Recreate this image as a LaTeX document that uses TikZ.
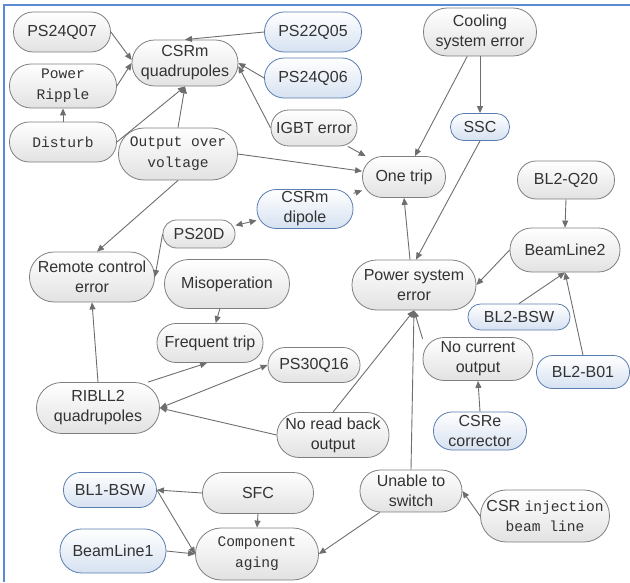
\documentclass[tikz,border=0pt]{standalone}
\usepackage{fontspec}
\setmainfont{Liberation Sans}
\newfontfamily\monof{Liberation Mono}
\usetikzlibrary{arrows.meta}
\definecolor{gborder}{HTML}{7F7F7F}
\definecolor{gfill}{HTML}{E2E2E2}
\definecolor{bborder}{HTML}{5A7DB0}
\definecolor{bfill}{HTML}{D6E1F1}
\definecolor{txt}{HTML}{333333}
\definecolor{arrc}{HTML}{6E6E6E}
\definecolor{framec}{HTML}{5B8BD4}
\tikzset{
  box/.style={rectangle, draw=gborder, line width=0.8pt, top color=white, bottom color=gfill,
    text=txt, align=center, inner sep=0pt, font=\fontsize{16}{20}\selectfont},
  bbox/.style={box, draw=bborder, bottom color=bfill},
  mono/.style={font=\monof\fontsize{14.6}{21}\selectfont},
  arr/.style={draw=arrc, line width=0.9pt, -{Triangle[length=7pt,width=6pt]}},
  darr/.style={draw=arrc, line width=0.9pt, {Triangle[length=7pt,width=6pt]}-{Triangle[length=7pt,width=6pt]}},
  framel/.style={draw=framec, line width=1.5pt}
}
\begin{document}
\begin{tikzpicture}[x=1pt,y=-1pt]
\useasboundingbox (0,0) rectangle (630,582);
\draw[framel] (630,5) -- (4,5) -- (4,582);

% nodes
\node[box, minimum width=97pt, minimum height=40pt, rounded corners=19.6pt] (ps24q07) at (62,32) {PS24Q07};
\node[box, mono, minimum width=107pt, minimum height=44pt, rounded corners=21.6pt] (pripple) at (63,86) {Power\\Ripple};
\node[box, mono, minimum width=107pt, minimum height=40pt, rounded corners=19.6pt] (disturb) at (63,142) {Disturb};
\node[box, minimum width=106pt, minimum height=46pt, rounded corners=22.6pt] (csrmq) at (185,63) {CSRm\\quadrupoles};
\node[bbox, minimum width=97pt, minimum height=40pt, rounded corners=19.6pt] (ps22q05) at (313,32) {PS22Q05};
\node[bbox, minimum width=97pt, minimum height=40pt, rounded corners=19.6pt] (ps24q06) at (313,78) {PS24Q06};
\node[box, minimum width=86pt, minimum height=36pt, rounded corners=17.6pt] (igbt) at (314,128) {IGBT error};
\node[box, mono, minimum width=119pt, minimum height=52pt, rounded corners=25.6pt] (oov) at (178,154) {Output over\\voltage};
\node[box, minimum width=113pt, minimum height=48pt, rounded corners=23.6pt] (cool) at (480,32) {Cooling\\system error};
\node[bbox, minimum width=59pt, minimum height=27pt, rounded corners=13.1pt] (ssc) at (480,127) {SSC};
\node[box, minimum width=83pt, minimum height=41pt, rounded corners=20.1pt] (onetrip) at (404,177) {One trip};
\node[bbox, minimum width=96pt, minimum height=39pt, rounded corners=19.1pt] (csrmd) at (305,209) {CSRm\\dipole};
\node[box, minimum width=72pt, minimum height=28pt, rounded corners=13.6pt] (ps20d) at (199,234) {PS20D};
\node[box, minimum width=125pt, minimum height=50pt, rounded corners=24.6pt] (rce) at (92,277) {Remote control\\error};
\node[box, minimum width=125pt, minimum height=49pt, rounded corners=24.1pt] (misop) at (227,284) {Misoperation};
\node[box, minimum width=106pt, minimum height=39pt, rounded corners=19.1pt] (ftrip) at (210,343) {Frequent trip};
\node[box, minimum width=92pt, minimum height=35pt, rounded corners=17.1pt] (ps30q16) at (314,365) {PS30Q16};
\node[box, minimum width=123pt, minimum height=51pt, rounded corners=25.1pt] (ribll2) at (98,408) {RIBLL2\\quadrupoles};
\node[box, minimum width=112pt, minimum height=45pt, rounded corners=22.1pt] (nrb) at (333,435) {No read back\\output};
\node[box, minimum width=97pt, minimum height=38pt, rounded corners=18.6pt] (bl2q20) at (566,180) {BL2-Q20};
\node[box, minimum width=110pt, minimum height=44pt, rounded corners=21.6pt] (bl2) at (565,250) {BeamLine2};
\node[box, minimum width=124pt, minimum height=50pt, rounded corners=24.6pt] (pse) at (414,285) {Power system\\error};
\node[bbox, minimum width=102pt, minimum height=26pt, rounded corners=12.6pt] (bl2bsw) at (519,317) {BL2-BSW};
\node[box, minimum width=110pt, minimum height=43pt, rounded corners=21.1pt] (nco) at (478,359) {No current\\output};
\node[bbox, minimum width=93pt, minimum height=33pt, rounded corners=16.1pt] (bl2b01) at (583,372) {BL2-B01};
\node[bbox, minimum width=93pt, minimum height=38pt, rounded corners=18.6pt] (csre) at (480,431) {CSRe\\corrector};
\node[box, minimum width=102pt, minimum height=42pt, rounded corners=20.6pt] (unable) at (411,491) {Unable to\\switch};
\node[box, minimum width=129pt, minimum height=52pt, rounded corners=25.6pt] (csrinj) at (545,516) {CSR {\monof\fontsize{14.6}{21}\selectfont injection}\\{\monof\fontsize{14.6}{21}\selectfont beam line}};
\node[bbox, minimum width=93pt, minimum height=35pt, rounded corners=17.1pt] (bl1bsw) at (110,490) {BL1-BSW};
\node[box, minimum width=111pt, minimum height=41pt, rounded corners=20.1pt] (sfc) at (258,493) {SFC};
\node[bbox, minimum width=106pt, minimum height=44pt, rounded corners=21.6pt] (bl1) at (113,551) {BeamLine1};
\node[box, mono, minimum width=123pt, minimum height=52pt, rounded corners=25.6pt] (ca) at (257,554) {Component\\aging};

% connectors
\draw[arr] (ps24q07.east) -- ([yshift=3pt]csrmq.west);
\draw[arr] (pripple.east) -- (csrmq.west);
\draw[arr] (disturb.north) -- (pripple.south);
\draw[arr] (disturb.east) -- (csrmq.south);
\draw[arr] (oov.north) -- (csrmq.south);
\draw[arr] (ps22q05.west) -- (csrmq.north);
\draw[arr] (ps24q06.west) -- (csrmq.east);
\draw[arr] (igbt.west) -- ([yshift=-3pt]csrmq.east);
\draw[arr] (igbt) -- (onetrip);
\draw[arr] (oov.east) -- (onetrip);
\draw[arr] (csrmd) -- (onetrip);
\draw[arr] (cool) -- (onetrip);
\draw[arr] (cool.south) -- (ssc.north);
\draw[arr] (ssc.south) -- ([xshift=2pt]pse.north);
\draw[arr] ([xshift=-4pt]pse.north) -- (onetrip.south);
\draw[darr] (ps20d) -- (csrmd);
\draw[arr] (ps20d.west) -- (rce.east);
\draw[arr] (oov.south) -- ([xshift=5pt]rce.north);
\draw[arr] (misop) -- (ftrip);
\draw[arr] (ribll2.north) -- (rce.south);
\draw[arr] ([xshift=50pt]ribll2.north) -- ([xshift=-3pt]ftrip.south);
\draw[darr] (ribll2.east) -- (ps30q16.west);
\draw[arr] (nrb.west) -- (ribll2.east);
\draw[arr] (nrb.north) -- (pse.south);
\draw[arr] (unable.north) -- (pse.south);
\draw[arr] (nco.160) -- (pse.south);
\draw[arr] (csre.north) -- (nco.south);
\draw[arr] (bl2q20.south) -- (bl2.north);
\draw[arr] (bl2.west) -- (pse.east);
\draw[arr] (bl2bsw.north) -- (bl2.south);
\draw[arr] (bl2b01.north) -- (bl2.south);
\draw[arr] (csrinj.west) -- (unable.east);
\draw[arr] (unable) -- (ca.east);
\draw[arr] (sfc.west) -- (bl1bsw.east);
\draw[arr] (sfc.south) -- (ca.north);
\draw[arr] (bl1bsw.east) -- (ca.west);
\draw[arr] (bl1.east) -- (ca.west);
\end{tikzpicture}
\end{document}
